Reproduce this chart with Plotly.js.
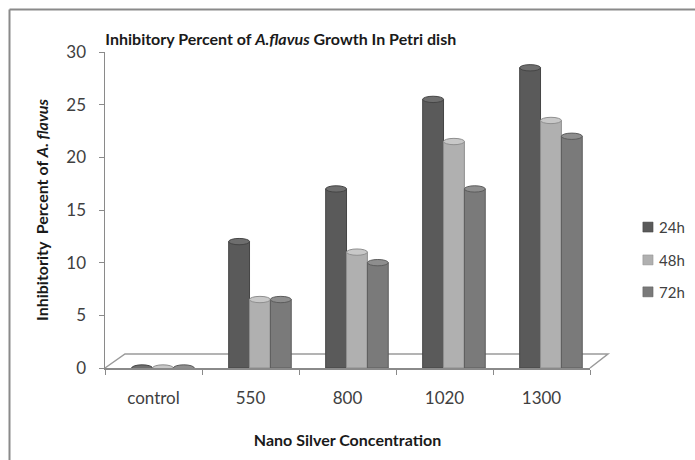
<!DOCTYPE html>
<html>
<head>
<meta charset="utf-8">
<script src="https://cdn.plot.ly/plotly-3.0.1.min.js"></script>
<style>
  html, body { margin: 0; padding: 0; background: #ffffff; }
  #chart { width: 695px; height: 460px; }
</style>
</head>
<body>
<div id="chart"></div>
<script>
// Inhibition of A. flavus growth at each nano silver concentration
const concentrations = ['control', '550', '800', '1020', '1300'];
const seriesNames = ['24h', '48h', '72h'];
const inhibition24h = [0, 12, 17, 25.5, 28.5];
const inhibition48h = [0, 6.5, 11, 21.5, 23.5];
const inhibition72h = [0, 6.5, 10, 17, 22];
const yTickValues = [0, 5, 10, 15, 20, 25, 30];

const seriesValues = [inhibition24h, inhibition48h, inhibition72h];

// cylinder styling: body, lighter cap and darker outline per series
const bodyColors = ['#5a5a5a', '#b0b0b0', '#7a7a7a'];
const capColors = ['#6e6e6e', '#c8c8c8', '#8e8e8e'];
const edgeColors = ['#454545', '#8f8f8f', '#5c5c5c'];
const barWidth = 0.215;
const barOffsets = [-0.225, -0.01, 0.205];
const capHalfHeight = 0.3;

const FONT = 'Lato, "Open Sans", sans-serif';

const traces = seriesNames.map((name, i) => ({
  type: 'bar',
  name: name,
  x: concentrations,
  y: seriesValues[i],
  width: barWidth,
  offset: barOffsets[i],
  marker: { color: bodyColors[i], line: { color: edgeColors[i], width: 1 } },
  showlegend: false,
  hoverinfo: 'x+y+name'
}));

// elliptical caps on top of each cylinder (also the flat discs for zero values)
const capShapes = [];
seriesValues.forEach((vals, i) => {
  vals.forEach((v, j) => {
    capShapes.push({
      type: 'circle', xref: 'x', yref: 'y', layer: 'above',
      x0: j + barOffsets[i], x1: j + barOffsets[i] + barWidth,
      y0: v - capHalfHeight, y1: v + capHalfHeight,
      fillcolor: capColors[i],
      line: { color: edgeColors[i], width: 1 }
    });
  });
});

// 3D floor outline under the columns
const floorShape = {
  type: 'path', xref: 'paper', yref: 'paper', layer: 'below',
  path: 'M 0 0 L 0.0412 0.0443 L 1.037 0.0443 L 1 0',
  line: { color: '#9a9a9a', width: 1.5 }
};

// outer chart frame (left and top edges)
const frameShapes = [
  { type: 'line', xref: 'paper', yref: 'paper', x0: -0.1969, x1: -0.1969, y0: -0.30, y1: 1.1345,
    line: { color: '#8a8a8a', width: 2 } },
  { type: 'line', xref: 'paper', yref: 'paper', x0: -0.1969, x1: 1.23, y0: 1.1345, y1: 1.1345,
    line: { color: '#8a8a8a', width: 2 } }
];

// legend: colour squares with series labels
const legendY = [0.446, 0.342, 0.241];
const legendShapes = seriesNames.map((n, i) => ({
  type: 'rect', xref: 'paper', yref: 'paper',
  x0: 1.109, x1: 1.130, y0: legendY[i] - 0.0158, y1: legendY[i] + 0.0158,
  fillcolor: bodyColors[i], line: { color: edgeColors[i], width: 0.5 }
}));
const legendLabels = seriesNames.map((n, i) => ({
  xref: 'paper', yref: 'paper', x: 1.138, y: legendY[i],
  xanchor: 'left', yanchor: 'middle', showarrow: false,
  text: n, font: { family: FONT, size: 15, color: '#404040' }
}));

const layout = {
  width: 695, height: 460,
  margin: { l: 105, r: 105, t: 52, b: 92 },
  paper_bgcolor: '#ffffff', plot_bgcolor: 'rgba(0,0,0,0)',
  font: { family: FONT, color: '#404040' },
  barmode: 'overlay',
  title: {
    text: '<b>Inhibitory Percent of <i>A.flavus</i> Growth In Petri dish</b>',
    font: { family: FONT, size: 16, color: '#1a1a1a' },
    xref: 'container', yref: 'container',
    x: 0.404, xanchor: 'center', y: 0.915, yanchor: 'middle'
  },
  xaxis: {
    type: 'category',
    range: [-0.5, 4.5],
    tickson: 'boundaries',
    ticks: 'outside', ticklen: 5, tickcolor: '#8a8a8a',
    showline: true, linecolor: '#8a8a8a', linewidth: 1.5,
    showgrid: false, zeroline: false,
    tickfont: { family: FONT, size: 17, color: '#404040' },
    ticklabelstandoff: 14,
    title: {
      text: '<b>Nano Silver Concentration</b>',
      font: { family: FONT, size: 16, color: '#1a1a1a' },
      standoff: 28
    },
    fixedrange: true
  },
  yaxis: {
    range: [0, 30],
    tickvals: yTickValues,
    ticks: 'outside', ticklen: 5, tickcolor: '#8a8a8a',
    showline: true, linecolor: '#8a8a8a', linewidth: 1.5,
    showgrid: false, zeroline: false,
    tickfont: { family: FONT, size: 17, color: '#404040' },
    ticklabelstandoff: 9,
    title: {
      text: '<b>Inhibitority&nbsp; Percent of <i>A. flavus</i></b>',
      font: { family: FONT, size: 16, color: '#1a1a1a' },
      standoff: 14
    },
    fixedrange: true
  },
  shapes: [floorShape].concat(frameShapes, capShapes, legendShapes),
  annotations: legendLabels,
  showlegend: false
};

Plotly.newPlot('chart', traces, layout, { displayModeBar: false, staticPlot: true });
</script>
</body>
</html>
